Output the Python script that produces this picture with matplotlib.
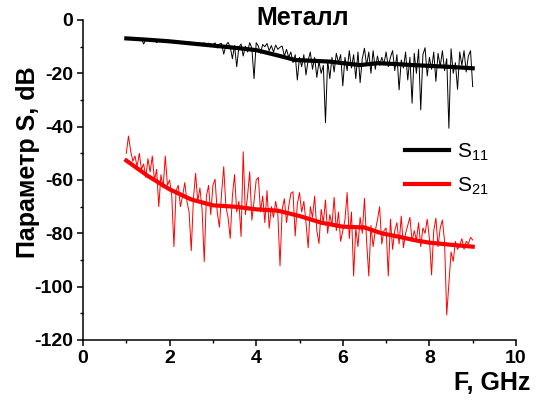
import matplotlib
matplotlib.use('Agg')
import matplotlib.pyplot as plt
import numpy as np
from matplotlib.ticker import MultipleLocator

plt.rcParams['font.family'] = ['Liberation Sans', 'DejaVu Sans']
plt.rcParams['mathtext.default'] = 'regular'
plt.rcParams['axes.unicode_minus'] = False

#==============================================================================
# Data
#==============================================================================

# measured points, F = 1.00 ... 9.00 GHz, step 0.05
freq = np.linspace(1.0, 9.0, 161)

s11_raw = [
    -6.8, -6.9, -7.0, -6.9, -7.1, -7.0, -7.2, -7.1, -9.0, -7.3,
    -7.2, -7.4, -7.3, -7.5, -8.5, -7.4, -7.6, -7.5, -7.7, -7.8,
    -7.9, -7.8, -8.0, -8.1, -7.9, -8.2, -8.1, -8.3, -8.4, -8.2,
    -8.5, -8.4, -8.6, -8.5, -8.7, -8.8, -8.6, -8.9, -8.7, -9.0,
    -9.2, -8.6, -10.5, -9.0, -8.8, -12.8, -9.5, -8.4, -10.0, -14.5,
    -9.6, -17.5, -10.2, -9.0, -13.5, -9.8, -12.0, -8.5, -10.6, -22.0,
    -8.5, -9.8, -12.5, -9.2, -10.0, -8.8, -11.5, -9.6, -12.0, -9.4,
    -11.0, -10.2, -9.8, -13.5, -11.0, -14.0, -12.0, -16.0, -13.0, -22.5,
    -14.0, -17.5, -13.0, -20.6, -15.0, -12.0, -18.5, -14.0, -21.5, -15.5,
    -20.0, -17.0, -38.5, -15.0, -22.0, -14.0, -19.5, -12.5, -16.0, -13.0,
    -24.7, -14.0, -19.0, -11.5, -18.0, -13.0, -22.0, -12.0, -23.5, -14.5,
    -10.6, -17.0, -12.0, -20.0, -11.5, -18.5, -13.5, -17.0, -14.0, -16.5,
    -12.0, -17.5, -14.0, -11.5, -19.0, -13.0, -26.2, -15.0, -18.0, -12.0,
    -22.5, -14.0, -31.2, -12.5, -20.0, -11.0, -33.7, -13.0, -10.4, -21.0,
    -14.0, -18.5, -12.0, -23.0, -12.5, -17.5, -11.5, -19.0, -14.5, -40.6,
    -10.8, -20.0, -16.0, -26.0, -12.0, -17.0, -11.5, -19.5, -13.5, -11.5,
    -25.0]

s21_raw = [
    -50.0, -43.5, -49.0, -53.0, -51.0, -55.0, -50.0, -56.0, -54.0, -59.0,
    -52.0, -57.0, -51.0, -60.0, -56.0, -70.0, -58.0, -63.0, -51.0, -62.0,
    -60.0, -66.0, -85.0, -64.0, -62.0, -70.0, -66.0, -61.0, -68.0, -72.0,
    -86.5, -67.0, -57.5, -68.0, -63.0, -71.0, -90.6, -66.0, -62.0, -73.0,
    -62.0, -59.7, -72.0, -77.7, -65.0, -55.0, -70.0, -74.0, -81.9, -66.0,
    -58.0, -72.0, -68.0, -81.2, -49.4, -73.0, -66.0, -56.9, -75.0, -68.0,
    -60.0, -59.0, -72.0, -66.0, -76.0, -64.0, -78.1, -70.0, -74.0, -68.0,
    -73.0, -92.2, -71.0, -67.0, -76.0, -70.0, -65.0, -64.4, -81.0, -69.0,
    -64.7, -72.0, -68.0, -76.0, -85.4, -70.0, -74.0, -66.0, -79.0, -83.8,
    -71.0, -76.0, -67.5, -80.0, -73.0, -77.0, -66.5, -79.0, -72.0, -83.0,
    -79.0, -75.0, -64.7, -82.0, -72.0, -96.0, -78.0, -85.0, -74.0, -80.0,
    -66.9, -83.0, -96.0, -77.0, -85.0, -79.0, -75.0, -70.0, -84.0, -79.0,
    -78.0, -96.0, -74.7, -86.0, -79.0, -76.0, -84.0, -73.5, -85.4, -80.0,
    -77.0, -74.0, -83.0, -79.0, -82.6, -76.0, -85.0, -78.0, -80.0, -74.7,
    -82.0, -95.6, -79.0, -74.3, -85.0, -78.0, -75.0, -83.0, -110.6, -99.0,
    -87.0, -90.5, -83.0, -86.0, -84.5, -82.0, -86.0, -83.0, -84.0, -81.5,
    -82.5]

# smoothed curves
f_s11 = [1.0, 1.5, 2.0, 2.5, 3.0, 3.5, 4.0, 4.5, 4.9, 5.3, 5.7, 6.0, 6.4, 6.8, 7.2, 7.6, 8.0, 8.5, 9.0]
s11_smooth = [-6.9, -7.4, -8.0, -8.8, -9.6, -10.4, -11.3, -13.3, -15.0, -15.3, -15.6, -16.2, -16.9, -16.2,
              -16.5, -16.9, -17.2, -17.6, -18.1]

f_s21 = [1.0, 1.5, 2.0, 2.5, 3.0, 3.5, 4.0, 4.5, 5.0, 5.5, 6.0, 6.5, 6.9, 7.3, 7.7, 8.0, 8.5, 9.0]
s21_smooth = [-52.7, -58.5, -63.5, -67.3, -69.5, -70.0, -71.0, -71.5, -73.5, -76.0, -77.5, -77.8, -80.0,
              -81.3, -82.7, -83.5, -84.3, -85.0]

#==============================================================================
# Plot
#==============================================================================

fig = plt.figure(figsize=(5.49, 4.05), dpi=100)
ax = fig.add_axes([83 / 549, 1 - 340 / 405, (516 - 83) / 549, 320 / 405])

ax.plot(freq, s11_raw, color='black', lw=0.7)
ax.plot(freq, s21_raw, color='red', lw=0.7)
ax.plot(f_s11, s11_smooth, color='black', lw=3, label='S$_{11}$')
ax.plot(f_s21, s21_smooth, color='red', lw=3, label='S$_{21}$')

ax.set_xlim(0, 10)
ax.set_ylim(-120, 0)
ax.xaxis.set_major_locator(MultipleLocator(2))
ax.xaxis.set_minor_locator(MultipleLocator(1))
ax.yaxis.set_major_locator(MultipleLocator(20))
ax.yaxis.set_minor_locator(MultipleLocator(10))

for side in ['top', 'right']:
    ax.spines[side].set_visible(False)
for side in ['left', 'bottom']:
    ax.spines[side].set_linewidth(1.1)
ax.tick_params(which='major', direction='out', length=4, width=1.1, labelsize=14, pad=3)
ax.tick_params(which='minor', direction='out', length=2.5, width=1.0)
for lab in ax.get_xticklabels() + ax.get_yticklabels():
    lab.set_fontweight('bold')

leg = ax.legend(loc='upper left', bbox_to_anchor=(0.70, 0.678), frameon=False, fontsize=15,
                handlelength=2.1, handletextpad=0.4, labelspacing=0.6)

fig.text(303 / 549, 1 - 18 / 405, 'Металл', ha='center', va='center', fontsize=18, fontweight='bold')
fig.text(530 / 549, 1 - 383 / 405, 'F, GHz', ha='right', va='center', fontsize=18, fontweight='bold')
fig.text(28 / 549, 1 - 162 / 405, 'Параметр S, dB', ha='center', va='center', rotation=90,
         fontsize=18, fontweight='bold')

fig.savefig('out.png', dpi=100)
